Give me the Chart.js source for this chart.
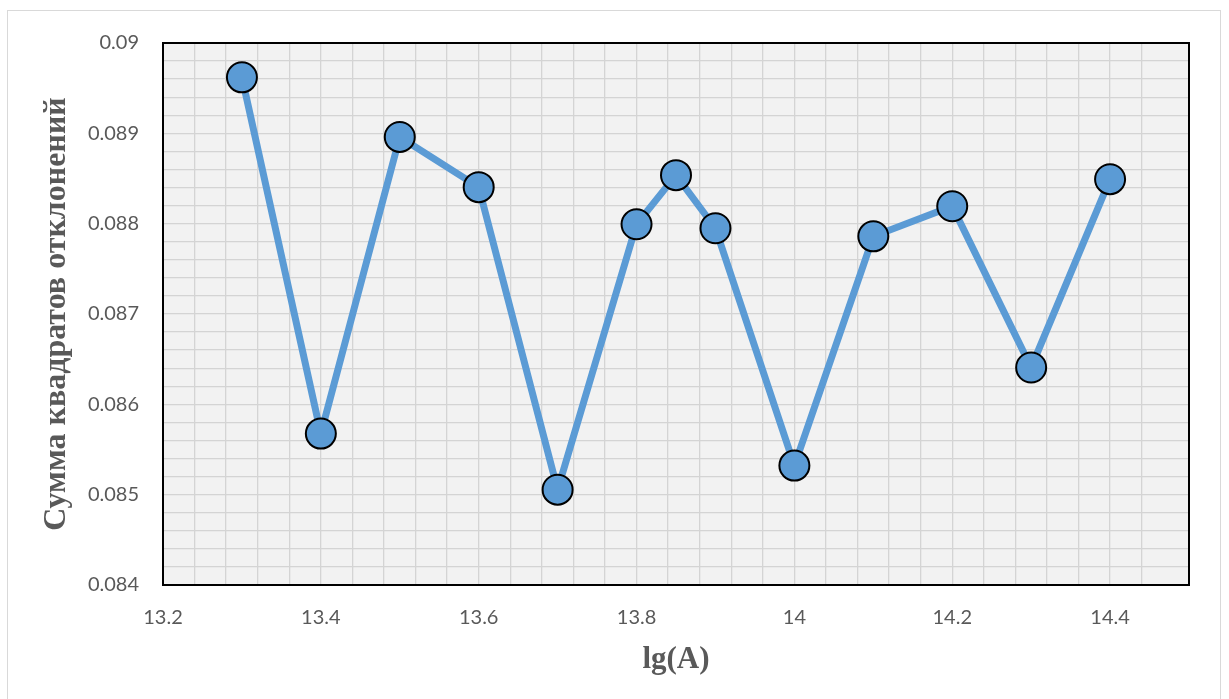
<!DOCTYPE html>
<html>
<head>
<meta charset="utf-8">
<script src="https://cdn.jsdelivr.net/npm/chart.js@4/dist/chart.umd.min.js"></script>
<style>
    html, body { margin: 0; padding: 0; background: #fff; }
    #frame { position: absolute; left: 7px; top: 10px; width: 1214px; height: 700px; border: 1px solid #d9d9d9; box-sizing: border-box; }
    #wrap { position: absolute; left: 0; top: 0; width: 1229px; height: 699px; }
</style>
</head>
<body>
<div id="frame"></div>
<div id="wrap"><canvas id="chart" width="1229" height="699"></canvas></div>
<script>
// lg(A) values and sums of squared deviations
const xValues = [13.3, 13.4, 13.5, 13.6, 13.7, 13.8, 13.85, 13.9, 14.0, 14.1, 14.2, 14.3, 14.4];
const yValues = [0.08962, 0.085676, 0.08896, 0.088404, 0.085055, 0.087993, 0.088537, 0.087949, 0.085322, 0.08786, 0.088193, 0.086408, 0.088492];

const xTitle = 'lg(A)';
const yTitle = 'Сумма квадратов отклонений';

const xMin = 13.2, xMax = 14.5, xMinorStep = 0.04, xLabelStep = 0.2;
const yMin = 0.084, yMax = 0.09, yMinorStep = 0.0002, yLabelStep = 0.001;

function isMultiple(v, step) {
    const r = v / step;
    return Math.abs(r - Math.round(r)) < 1e-6;
}

function fmt(v) {
    return String(parseFloat(v.toFixed(6)));
}

// plot background + frame
const plotFrame = {
    id: 'plotFrame',
    beforeDraw(chart) {
        const a = chart.chartArea;
        const ctx = chart.ctx;
        ctx.save();
        ctx.fillStyle = '#f2f2f2';
        ctx.fillRect(a.left, a.top, a.right - a.left, a.bottom - a.top);
        ctx.restore();
    },
    beforeDatasetsDraw(chart) {
        const a = chart.chartArea;
        const ctx = chart.ctx;
        ctx.save();
        ctx.strokeStyle = '#000';
        ctx.lineWidth = 2;
        ctx.strokeRect(a.left, a.top, a.right - a.left, a.bottom - a.top);
        ctx.restore();
    }
};

const ctx = document.getElementById('chart');

new Chart(ctx, {
    type: 'line',
    data: {
        datasets: [{
            data: xValues.map((x, i) => ({ x: x, y: yValues[i] })),
            borderColor: '#5b9bd5',
            borderWidth: 7,
            backgroundColor: '#5b9bd5',
            pointRadius: 15,
            pointHoverRadius: 15,
            pointBorderColor: '#000',
            pointBorderWidth: 2,
            pointBackgroundColor: '#5b9bd5',
            tension: 0
        }]
    },
    options: {
        responsive: false,
        animation: false,
        events: [],
        layout: { padding: { top: 43, right: 40, left: 38, bottom: 0 } },
        plugins: {
            legend: { display: false },
            tooltip: { enabled: false }
        },
        scales: {
            x: {
                type: 'linear',
                min: xMin,
                max: xMax,
                afterFit: (s) => { s.height = 114; },
                grid: { color: '#d4d4d4', lineWidth: 1.3, drawTicks: false },
                border: { display: false },
                ticks: {
                    stepSize: xMinorStep,
                    autoSkip: false,
                    maxRotation: 0,
                    padding: 21,
                    color: '#595959',
                    font: { family: 'Lato', size: 20 },
                    callback: (v) => isMultiple(v - xMin, xLabelStep) && v < xMax - 1e-9 ? fmt(v) : ''
                },
                title: {
                    display: true,
                    text: xTitle,
                    color: '#595959',
                    font: { family: 'Liberation Serif', size: 31, weight: 'bold' },
                    padding: { top: 0, bottom: 20 }
                }
            },
            y: {
                type: 'linear',
                min: yMin,
                max: yMax,
                afterFit: (s) => { s.width = 125; },
                grid: { color: '#d4d4d4', lineWidth: 1.3, drawTicks: false },
                border: { display: false },
                ticks: {
                    stepSize: yMinorStep,
                    autoSkip: false,
                    padding: 24,
                    color: '#595959',
                    font: { family: 'Lato', size: 20 },
                    callback: (v) => isMultiple(v, yLabelStep) ? fmt(v) : ''
                },
                title: {
                    display: true,
                    text: yTitle,
                    color: '#595959',
                    font: { family: 'Liberation Serif', size: 32, weight: 'bold' },
                    padding: { top: 0, bottom: 0 }
                }
            }
        }
    },
    plugins: [plotFrame]
});
</script>
</body>
</html>
